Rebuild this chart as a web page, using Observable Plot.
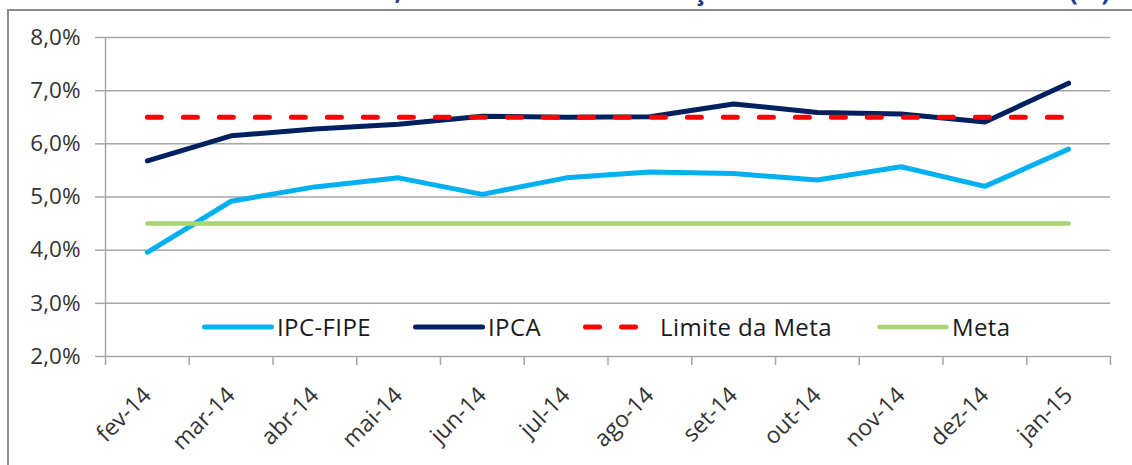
<!DOCTYPE html>
<html>
<head>
<meta charset="utf-8">
<script src="https://cdn.jsdelivr.net/npm/d3@7"></script>
<script src="https://cdn.jsdelivr.net/npm/@observablehq/plot@0.6"></script>
<style>
  body { margin: 0; background: #fff; }
  #wrap { position: relative; width: 1132px; height: 465px; overflow: hidden; font-family: "Open Sans", sans-serif; background: #fff; }
  #frame { position: absolute; left: 7px; top: 9px; width: 1300px; height: 600px; border-left: 2px solid #8c8c8c; border-top: 2px solid #8c8c8c; box-sizing: border-box; }
  #title { position: absolute; right: 22px; top: -23px; font-size: 26px; line-height: 26px; font-weight: bold; color: #1F3C88; white-space: nowrap; }
  #chart { position: absolute; left: 0; top: 0; }
  .leg { position: absolute; top: 310px; height: 33px; display: flex; align-items: center; font-size: 24px; line-height: 33px; color: #1a1a1a; white-space: nowrap; letter-spacing: 0.4px; }
  .leg svg { display: block; margin-right: 3px; }
</style>
</head>
<body>
<div id="wrap">
  <div id="frame"></div>
  <div id="title">IPC-FIPE e IPCA, meta e limite de variação acumulada em 12 meses (%)</div>
  <div id="chart"></div>
  <div id="legend"></div>
</div>
<script>
// ---- data ----
const months = ["fev-14","mar-14","abr-14","mai-14","jun-14","jul-14","ago-14","set-14","out-14","nov-14","dez-14","jan-15"];
const ipcFipe    = [3.96, 4.92, 5.19, 5.36, 5.05, 5.36, 5.47, 5.44, 5.32, 5.57, 5.20, 5.90];
const ipca       = [5.68, 6.15, 6.28, 6.37, 6.52, 6.50, 6.51, 6.75, 6.59, 6.56, 6.41, 7.14];
const limiteMeta = [6.5, 6.5, 6.5, 6.5, 6.5, 6.5, 6.5, 6.5, 6.5, 6.5, 6.5, 6.5];
const meta       = [4.5, 4.5, 4.5, 4.5, 4.5, 4.5, 4.5, 4.5, 4.5, 4.5, 4.5, 4.5];
const yTicks = [2, 3, 4, 5, 6, 7, 8];
const yTickLabels = ["2,0%", "3,0%", "4,0%", "5,0%", "6,0%", "7,0%", "8,0%"];
const seriesNames = ["IPC-FIPE", "IPCA", "Limite da Meta", "Meta"];
const seriesColors = ["#00B0F0", "#002060", "#FF0000", "#A5D672"];

// ---- derived ----
const idx = months.map((_, i) => i);
const boundaries = months.map((_, i) => i - 0.5).concat([months.length - 0.5]);
const gridColor = "#a6a6a6";

const chart = Plot.plot({
  width: 1132,
  height: 465,
  marginLeft: 105,
  marginRight: 22,
  marginTop: 37,
  marginBottom: 109,
  style: { fontFamily: '"Open Sans", sans-serif', fontSize: "22px", color: "#333", background: "transparent", overflow: "visible" },
  x: { domain: [-0.5, months.length - 0.5] },
  y: { domain: [2, 8] },
  marks: [
    Plot.gridY(yTicks, { stroke: gridColor, strokeOpacity: 1, strokeWidth: 1.5 }),
    Plot.ruleX([-0.5], { stroke: gridColor, strokeWidth: 1.5 }),
    Plot.axisY(yTicks, {
      tickFormat: d => yTickLabels[yTicks.indexOf(d)],
      tickSize: 10, tickPadding: 15, stroke: gridColor, strokeWidth: 1.5,
      label: null, fontSize: 22.5, fill: "#333"
    }),
    Plot.axisX(boundaries, { tickFormat: () => "", tickSize: 9, stroke: gridColor, strokeWidth: 1.5, label: null }),
    Plot.axisX(idx, {
      tickFormat: i => months[i], tickSize: 0, tickPadding: 35, tickRotate: -45,
      textAnchor: "end", lineAnchor: "middle", dx: 0,
      label: null, fontSize: 23, fill: "#333"
    }),
    Plot.lineY(ipcFipe, { stroke: seriesColors[0], strokeWidth: 5 }),
    Plot.lineY(ipca, { stroke: seriesColors[1], strokeWidth: 5 }),
    Plot.lineY(limiteMeta, { stroke: seriesColors[2], strokeWidth: 5, strokeDasharray: "14,22", strokeLinecap: "round" }),
    Plot.lineY(meta, { stroke: seriesColors[3], strokeWidth: 4.5 })
  ]
});
document.getElementById("chart").appendChild(chart);

// ---- legend ----
const legLefts = [202, 413, 583, 877];
const legend = document.getElementById("legend");
seriesNames.forEach((name, k) => {
  const item = document.createElement("div");
  item.className = "leg";
  item.style.left = legLefts[k] + "px";
  const dashed = k === 2;
  const w = dashed ? 74 : 72;
  const x2 = dashed ? 58 : 69.5;
  item.innerHTML =
    `<svg width="${w}" height="12"><line x1="2.5" x2="${x2}" y1="6" y2="6" stroke="${seriesColors[k]}" stroke-width="${k === 3 ? 4.5 : 5}" stroke-linecap="round"${dashed ? ' stroke-dasharray="14,22"' : ""}/></svg><span>${name}</span>`;
  legend.appendChild(item);
});
</script>
</body>
</html>
